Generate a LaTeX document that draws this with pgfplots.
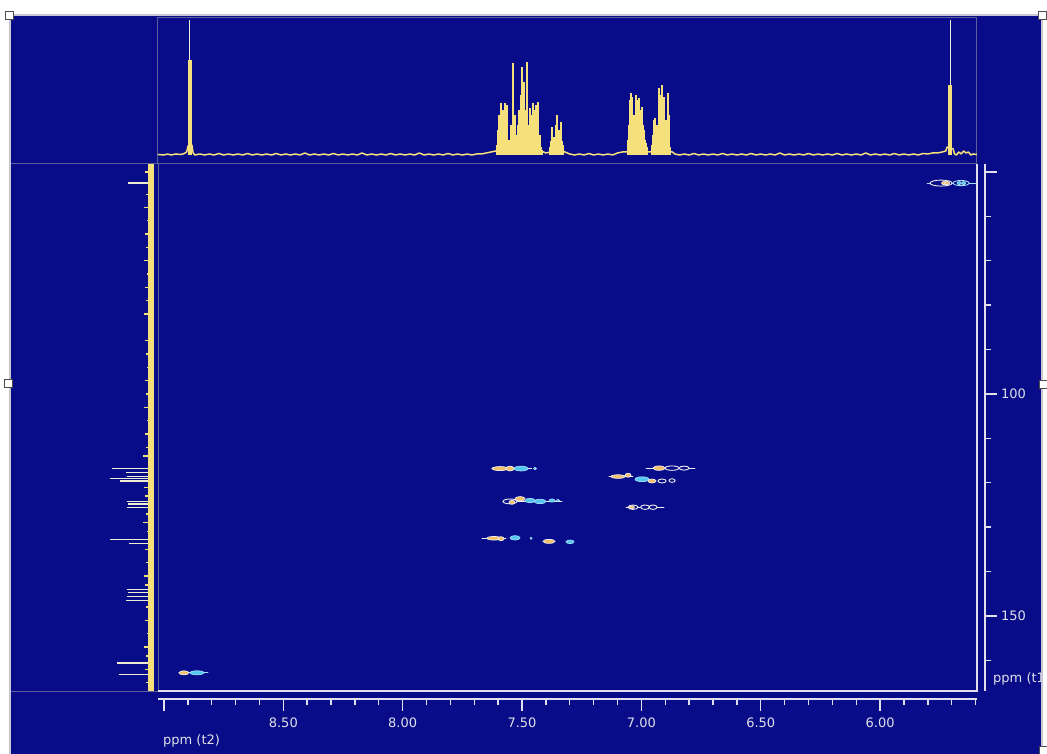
\documentclass[border=0pt]{standalone}
\usepackage{pgfplots}
\pgfplotsset{compat=1.18}
\usepackage{pgfplotstable}
\usepackage{fontspec}
\setmainfont{DejaVu Sans}

\definecolor{bgblue}{RGB}{8,12,136}
\definecolor{panelgray}{RGB}{92,96,150}
\definecolor{framegray}{RGB}{200,200,212}
\definecolor{axiswhite}{RGB}{224,224,234}
\definecolor{specyellow}{RGB}{246,224,124}
\definecolor{spikecream}{RGB}{240,238,210}
\definecolor{blobor}{RGB}{242,190,104}
\definecolor{blobcyan}{RGB}{84,198,242}
\definecolor{cyanring}{RGB}{160,222,248}
\definecolor{blobring}{RGB}{238,238,238}

\newcommand\ticklabelfont{\fontsize{13}{15}\selectfont}

% horizontal contour blob, radii taken per point
\pgfdeclareplotmark{blob}{%
  \pgfpathellipse{\pgfpointorigin}{\pgfqpoint{\blobrx pt}{0pt}}{\pgfqpoint{0pt}{\blobry pt}}%
  \pgfusepathqfillstroke}

% 2D cross peaks: t2 (ppm), t1 (ppm), radii (pt), class
\pgfplotstableread{
x y rx ry cls
5.7444 52.5 11 3.0 w
5.7318 52.5 2.5 1.6 o
5.7193 52.5 2.5 1.6 o
5.6607 52.5 8 2.6 k
5.6690 52.5 2 1.5 c
5.6500 52.5 2 1.5 c
8.9162 162.8 5 2.0 o
8.8617 162.8 7 2.0 c
7.5922 116.8 8 2.0 o
7.5503 116.8 4 2.4 o
7.5042 116.8 7 2.4 c
7.4455 116.8 1.5 1.2 c
7.5503 124.2 7 2.4 w
7.5420 124.4 3 2.0 o
7.5084 123.6 5 2.2 o
7.4665 124.0 5 2.2 c
7.4246 124.2 6 2.2 c
7.3743 124.0 3 1.6 c
7.3492 124.0 1.5 1.2 c
7.6173 132.5 7 1.8 o
7.5880 132.6 3 2.0 o
7.5293 132.4 5 2.2 c
7.4623 132.5 1 1.0 c
7.3869 133.2 6 2.0 o
7.2989 133.3 4 1.8 c
6.9260 116.7 6 2.2 o
6.8715 116.7 7 2.2 w
6.8212 116.7 5 2.0 w
7.0978 118.6 7 1.8 o
7.0559 118.3 3 2.0 o
6.9972 119.2 7 2.4 c
6.9553 119.6 4 2.0 o
6.9134 119.6 4 2.0 w
6.8715 119.5 3 1.8 w
7.0349 125.5 5 2.2 w
7.0400 125.5 2.5 1.5 o
6.9846 125.5 4.5 2.2 w
6.9511 125.5 4 2.2 w
}\blobs

% 1H projection: baseline
\pgfplotstableread{
x h
9.025 0.5
9.000 0
8.985 1
8.970 0
8.950 1
8.930 0.5
8.915 1.5
8.905 3
8.899 9
8.883 10
8.878 2
8.870 0
8.850 1
8.830 0
8.810 1
8.790 0
8.770 1.5
8.750 0
8.730 1
8.710 0
8.690 1
8.670 0
8.650 1.5
8.630 0
8.610 1
8.590 0
8.570 1
8.550 0
8.530 1.5
8.510 0
8.490 1
8.470 0
8.450 1
8.430 0
8.410 2
8.390 0
8.370 1
8.350 0
8.330 1
8.310 0
8.290 1.5
8.270 0
8.250 1
8.230 0
8.210 1
8.190 0
8.170 2
8.150 0
8.130 1
8.110 0
8.090 1
8.070 0
8.050 1.5
8.030 0
8.010 1
7.990 0
7.970 1
7.950 0
7.930 2
7.910 0
7.890 1
7.870 0
7.850 1
7.830 0
7.810 1.5
7.790 0
7.770 1
7.750 0
7.730 1
7.710 0
7.690 1
7.670 1
7.650 2
7.630 3
7.610 4
7.420 4
7.400 2
7.380 3
7.320 3
7.300 1
7.280 0
7.260 1
7.240 0
7.220 1.5
7.200 0
7.180 1
7.160 0
7.140 1
7.120 0
7.100 2
7.080 3
6.870 3
6.860 1
6.840 0
6.820 1
6.800 0
6.780 1.5
6.760 0
6.740 1
6.720 0
6.700 1
6.680 0
6.660 1.5
6.640 0
6.620 1
6.600 0
6.580 1
6.560 0
6.540 1.5
6.520 0
6.500 1
6.480 0
6.460 1
6.440 0
6.420 2
6.400 0
6.380 1
6.360 0
6.340 1
6.320 0
6.300 1.5
6.280 0
6.260 1
6.240 0
6.220 1
6.200 0
6.180 1.5
6.160 0
6.140 1
6.120 0
6.100 1
6.080 0
6.060 2
6.040 0
6.020 1
6.000 0
5.980 1
5.960 0
5.940 1.5
5.920 0
5.900 1
5.880 0
5.860 1
5.840 0
5.820 1.5
5.800 1
5.780 2
5.760 2
5.740 3
5.725 4
5.719 8
5.694 6
5.688 1
5.680 0
5.670 3
5.660 1
5.650 4
5.640 2
5.630 3
5.620 0
5.610 1
5.594 0.5
}\topbase

% 1H projection: multiplet lines
\pgfplotstableread{
x h
7.6048 10
7.6006 25
7.5964 40
7.5922 30
7.5880 52
7.5838 22
7.5796 45
7.5755 18
7.5713 52
7.5671 28
7.5629 50
7.5587 12
7.5545 15
7.5503 12
7.5461 30
7.5419 20
7.5377 92
7.5335 18
7.5293 40
7.5251 14
7.5210 20
7.5168 30
7.5126 45
7.5084 25
7.5042 60
7.5000 88
7.4958 40
7.4916 73
7.4874 30
7.4832 45
7.4790 93
7.4749 22
7.4707 30
7.4665 47
7.4623 20
7.4581 40
7.4539 52
7.4497 25
7.4455 45
7.4413 50
7.4371 22
7.4330 53
7.4288 15
7.4246 20
7.4204 8
7.4162 5
7.3827 8
7.3785 14
7.3743 28
7.3701 12
7.3659 18
7.3617 14
7.3575 30
7.3534 40
7.3492 14
7.3450 25
7.3408 12
7.3366 33
7.3324 14
7.3282 10
7.0559 15
7.0517 30
7.0475 55
7.0433 62
7.0391 58
7.0349 30
7.0307 40
7.0265 28
7.0224 60
7.0182 55
7.0140 30
7.0098 57
7.0056 45
7.0014 28
6.9972 48
6.9930 30
6.9888 25
6.9847 15
6.9805 12
6.9763 8
6.9553 10
6.9511 20
6.9469 35
6.9427 37
6.9386 20
6.9344 30
6.9302 25
6.9260 67
6.9218 60
6.9176 35
6.9134 70
6.9092 40
6.9050 58
6.9008 25
6.8967 35
6.8925 22
6.8883 62
6.8841 40
6.8799 8
}\toplines

% 1H projection: singlets
\pgfplotstableread{
x h top
8.8911 95 135
5.7067 70 135
}\topsing

% 13C projection: noise along the baseline
\pgfplotstableread{
y len
50 6
55 5
58 7
61 4
64 6
67 5
70 7
73 4
76 6
79 5
82 7
85 3
88 6
91 5
94 4
97 6
100 5
103 7
106 4
109 6
112 5
114 8
121 7
123 6
127 5
129 8
131 4
135 6
138 5
141 7
143 6
148 5
151 6
154 4
157 7
159 5
162 6
165 5
}\sidenoise

% 13C projection: resolved lines
\pgfplotstableread{
y len
52.5 23
116.7 39
117.6 25
118.5 24
119.1 41
119.6 31
124.3 24
124.8 23
125.5 24
132.7 41
133.6 22
144.1 24
144.8 23
145.7 24
146.6 25
160.6 34
163.1 32
}\sidelines

\begin{document}
\begin{tikzpicture}[x=1pt,y=1pt]
\useasboundingbox (0,0) rectangle (1047,754);
\fill[white] (0,0) rectangle (1047,754);
\fill[bgblue] (9.5,0) rectangle (1041.5,739);

% top projection (1H)
\begin{axis}[at={(158pt,590pt)}, anchor=south west, scale only axis,
  width=819pt, height=146pt,
  xmin=5.594, xmax=9.025, x dir=reverse, ymin=-9, ymax=137,
  xtick=\empty, ytick=\empty,
  axis line style={draw=panelgray, line width=1pt}]
  \addplot[draw=specyellow, line width=1.5pt, mark=none, line join=bevel] table[x=x, y=h] {\topbase};
  \addplot[ycomb, draw=specyellow, line width=1.3pt, mark=none] table[x=x, y=h] {\toplines};
  \addplot[ycomb, draw=spikecream, line width=1pt, mark=none] table[x=x, y=top] {\topsing};
  \addplot[ycomb, draw=specyellow, line width=3.5pt, mark=none] table[x=x, y=h] {\topsing};
\end{axis}

% side projection (13C)
\begin{axis}[at={(10pt,63pt)}, anchor=south west, scale only axis,
  width=148pt, height=527pt,
  xmin=-7, xmax=141, x dir=reverse, ymin=48.2, ymax=166.9, y dir=reverse,
  xtick=\empty, ytick=\empty,
  axis line style={draw=panelgray, line width=1pt}]
  \addplot[xcomb, draw=spikecream, line width=1.2pt, mark=none] table[x=len, y=y] {\sidelines};
  \addplot[draw=specyellow, line width=6pt, mark=none] coordinates {(0,48.2) (0,166.9)};
  \addplot[xcomb, draw=specyellow, line width=1.3pt, mark=none] table[x=len, y=y] {\sidenoise};
\end{axis}

% 2D correlation map
\begin{axis}[at={(158pt,63pt)}, anchor=south west, scale only axis,
  width=819pt, height=527pt,
  xmin=5.594, xmax=9.025, x dir=reverse, ymin=48.2, ymax=166.9, y dir=reverse,
  hide axis]
  \pgfplotsset{every axis plot/.append style={line cap=round}}
  \addplot[draw=cyanring, line width=0.8pt] coordinates {(5.8031,52.5) (5.594,52.5)};
  \addplot[draw=cyanring, line width=0.8pt] coordinates {(8.9372,162.8) (8.8156,162.8)};
  \addplot[draw=blobring, line width=0.8pt] coordinates {(7.6257,116.8) (7.4600,116.8)};
  \addplot[draw=blobring, line width=0.8pt] coordinates {(7.5796,124.2) (7.3324,124.2)};
  \addplot[draw=blobring, line width=0.8pt] coordinates {(7.6676,132.5) (7.5671,132.5)};
  \addplot[draw=blobring, line width=0.8pt] coordinates {(6.9805,116.7) (6.7752,116.7)};
  \addplot[draw=blobring, line width=0.8pt] coordinates {(7.1355,118.5) (7.0349,118.5)};
  \addplot[draw=blobring, line width=0.8pt] coordinates {(7.0643,125.5) (6.9050,125.5)};
  \addplot[scatter, only marks, mark=blob, point meta=explicit symbolic,
    visualization depends on={\thisrow{rx}\as\blobrx},
    visualization depends on={\thisrow{ry}\as\blobry},
    scatter/classes={
      o={mark=blob, draw=blobring, fill=blobor, line width=0.7pt},
      c={mark=blob, draw=cyanring, fill=blobcyan, line width=0.7pt},
      w={mark=blob, draw=blobring, fill=bgblue, line width=0.9pt},
      k={mark=blob, draw=cyanring, fill=bgblue, line width=0.9pt}}]
    table[x=x, y=y, meta=cls] {\blobs};
\end{axis}

% t2 scale
\begin{axis}[at={(158pt,55pt)}, anchor=south west, scale only axis,
  width=819pt, height=10pt,
  xmin=5.594, xmax=9.025, x dir=reverse, ymin=0, ymax=1,
  axis x line=bottom, axis y line=none,
  axis line style={-, draw=axiswhite, line width=1.4pt},
  xtick={9,8.5,8,7.5,7,6.5,6},
  xticklabels={{},8.50,8.00,7.50,7.00,6.50,6.00},
  minor xtick={5.6,5.7,5.8,5.9,6.1,6.2,6.3,6.4,6.6,6.7,6.8,6.9,7.1,7.2,7.3,7.4,7.6,7.7,7.8,7.9,8.1,8.2,8.3,8.4,8.6,8.7,8.8,8.9},
  tick align=outside, major tick length=12pt, minor tick length=6pt,
  tick style={draw=axiswhite, line width=1.4pt},
  xticklabel style={font=\ticklabelfont, text=axiswhite, anchor=north, inner sep=0pt, yshift=-7pt}]
  \addplot[draw=none] coordinates {(7,0.5)};
\end{axis}

% t1 scale
\begin{axis}[at={(975pt,63pt)}, anchor=south west, scale only axis,
  width=10pt, height=527pt,
  xmin=0, xmax=1, ymin=48.2, ymax=166.9, y dir=reverse,
  axis y line=right, axis x line=none,
  axis line style={-, draw=axiswhite, line width=1.4pt},
  ytick={50,100,150}, yticklabels={{},100,150},
  minor ytick={60,70,80,90,110,120,130,140,160},
  tick align=outside, major tick length=12pt, minor tick length=6pt,
  tick style={draw=axiswhite, line width=1.4pt},
  yticklabel style={font=\ticklabelfont, text=axiswhite, anchor=west, inner sep=0pt, xshift=4pt}]
  \addplot[draw=none] coordinates {(0.5,100)};
\end{axis}

% frame of the 2D map
\draw[axiswhite, line width=1.6pt] (158,63) -- (977,63) -- (977,590);

% axis titles
\node[anchor=base west, inner sep=0pt, text=axiswhite, font=\ticklabelfont] at (163,9) {ppm (t2)};
\node[anchor=base west, inner sep=0pt, text=axiswhite, font=\ticklabelfont] at (993,71) {ppm (t1};

% window border and handles
\fill[white] (1042.5,0) rectangle (1047,754);
\draw[framegray, line width=2pt] (9.5,0) -- (9.5,739) -- (1041.5,739) -- (1041.5,0);
\foreach \hx/\hy in {9/738.5, 1042/738.5, 8/371, 1043/370, 1043/4}
  \filldraw[fill=white, draw=gray!60!black, line width=0.6pt] (\hx-4,\hy-4) rectangle (\hx+4,\hy+4);
\end{tikzpicture}
\end{document}
